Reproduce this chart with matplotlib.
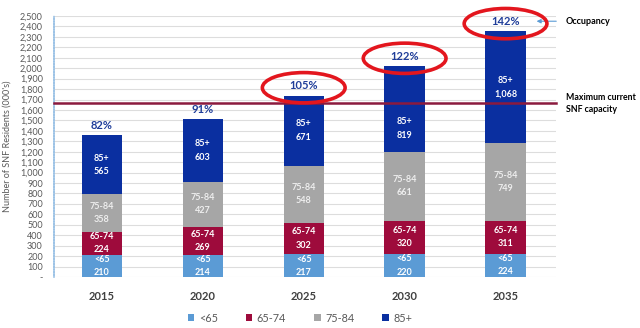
import matplotlib
matplotlib.use("Agg")
import matplotlib.pyplot as plt
from matplotlib.patches import Ellipse, Patch

plt.rcParams['font.family'] = ['Lato', 'DejaVu Sans']

years = ['2015', '2020', '2025', '2030', '2035']
groups = ['<65', '65-74', '75-84', '85+']
under65 = [210, 214, 217, 220, 224]
age65_74 = [224, 269, 302, 320, 311]
age75_84 = [358, 427, 548, 661, 749]
age85 = [565, 603, 671, 819, 1068]
occupancy = ['82%', '91%', '105%', '122%', '142%']
circled = [False, False, True, True, True]
capacity = 1665

colors = ['#5B9BD5', '#9E0B3C', '#A6A6A6', '#0A2FA0']
label_colors = ['white', 'white', '#EEEEEE', 'white']
series = [under65, age65_74, age75_84, age85]

fig = plt.figure(figsize=(6.4, 3.28), dpi=100)
ax = fig.add_axes([54/640, 1-277/328, (556-54)/640, (277-16)/328])

x = list(range(len(years)))
bottoms = [0]*len(years)
for s, c, lc, g in zip(series, colors, label_colors, groups):
    ax.bar(x, s, width=0.4, bottom=bottoms, color=c, zorder=3)
    for i in x:
        yc = bottoms[i] + s[i]/2
        if abs(yc - capacity) < 130 and bottoms[i] < capacity:
            # keep the label clear of the capacity line
            yc = (bottoms[i] + capacity) / 2 - 10
        ax.text(i, yc, f"{g}\n{s[i]:,}", ha='center', va='center',
                color=lc, fontsize=6.5, fontweight='bold', linespacing=1.6, zorder=4)
    bottoms = [b + v for b, v in zip(bottoms, s)]

for i in x:
    ax.annotate(occupancy[i], (i, bottoms[i]), xytext=(0, 3), textcoords='offset points',
                ha='center', va='bottom', color='#1F3D99', fontsize=8, fontweight='bold', zorder=5)
    if circled[i]:
        ax.add_patch(Ellipse((i, bottoms[i] + 75), 0.82, 290, fill=False,
                             edgecolor='#E3161E', lw=2.6, zorder=6, clip_on=False))

ax.axhline(capacity, color='#8B1A3E', lw=1.8, zorder=4, clip_on=False)

ax.set_xlim(-0.475, 4.5)
ax.set_ylim(0, 2500)
ax.set_yticks(range(0, 2501, 100))
ax.set_yticklabels(['-'] + [f"{v:,}" for v in range(100, 2501, 100)])
ax.set_xticks(x)
ax.set_xticklabels(years, fontweight='bold', fontsize=8, color='#404040')
ax.tick_params(axis='y', length=0, labelsize=6.5, labelcolor='#595959', pad=8)
ax.tick_params(axis='x', length=0, pad=10)
ax.grid(axis='y', color='#DDDDDD', lw=0.8, zorder=0)
for sp in ['top', 'right', 'bottom']:
    ax.spines[sp].set_visible(False)
ax.spines['left'].set_color('#9DC3E6')
ax.spines['left'].set_linestyle((0, (1, 0.6)))
ax.spines['left'].set_linewidth(1.2)
ax.set_ylabel("Number of SNF Residents (000's)", fontsize=6.5, color='#595959', labelpad=6)

# annotations on the right
ax.annotate('', xy=(4.28, 2450), xytext=(4.53, 2450),
            arrowprops=dict(arrowstyle='-|>', color='#5B9BD5', lw=0.8, mutation_scale=6),
            annotation_clip=False)
ax.text(4.6, 2450, 'Occupancy', fontsize=6.5, fontweight='bold', va='center', ha='left',
        color='black', clip_on=False)
ax.text(4.6, capacity, 'Maximum current\nSNF capacity', fontsize=6.3, fontweight='bold',
        va='center', ha='left', color='black', clip_on=False, linespacing=1.4)

handles = [Patch(facecolor=c, edgecolor='none') for c in colors]
leg = fig.legend(handles, groups, loc='center', bbox_to_anchor=(300/640, 1-318/328), ncol=4,
                 frameon=False, fontsize=7.8, handlelength=0.6, handleheight=0.6,
                 handletextpad=0.4, columnspacing=2.6)
for t in leg.get_texts():
    t.set_color('#595959')

fig.savefig('out.png', dpi=100)
